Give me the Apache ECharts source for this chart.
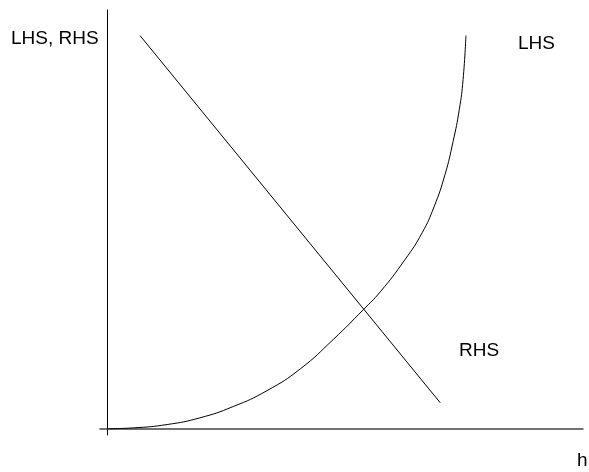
<!DOCTYPE html>
<html lang="en">

<head>
    <meta charset="UTF-8">
    <title>LHS RHS</title>
    <script type="text/javascript" src="https://cdn.jsdelivr.net/npm/echarts@6.0.0/dist/echarts.min.js"></script>
    <style>
        html, body { margin: 0; padding: 0; background: #fff; }
        #container { width: 589px; height: 472px; }
    </style>
</head>

<body>
    <div id="container"></div>
</body>
<script type="text/javascript">
    // curve LHS (convex, rising)
    var lhsX = [0, 0.55, 1.26, 1.95, 2.65, 3.36, 4.06, 4.75, 5.38, 5.74, 6.26, 6.62, 6.87, 7.10, 7.27, 7.40, 7.48, 7.54];
    var lhsY = [0, 0.02, 0.10, 0.26, 0.53, 0.91, 1.43, 2.13, 2.84, 3.27, 4.04, 4.68, 5.30, 6.07, 6.86, 7.62, 8.34, 9.39];
    // straight line RHS (falling)
    var rhsX = [0.69, 7.0];
    var rhsY = [9.39, 0.62];

    var labelFont = '19px "Liberation Sans", Arial, sans-serif';

    function pairs(xs, ys) {
        return xs.map(function (x, i) { return [x, ys[i]]; });
    }

    var dom = document.getElementById('container');
    var myChart = echarts.init(dom, null, { renderer: 'canvas' });

    var hiddenAxis = {
        type: 'value',
        min: -0.15,
        max: 10,
        axisLine: { show: true, onZero: true, lineStyle: { color: '#000', width: 1 } },
        axisTick: { show: false },
        axisLabel: { show: false },
        splitLine: { show: false }
    };

    myChart.setOption({
        animation: false,
        grid: { left: 100, right: 6, top: 10, bottom: 37 },
        xAxis: Object.assign({}, hiddenAxis, {
            axisLine: { show: true, onZero: true, lineStyle: { color: '#444', width: 1.5 } }
        }),
        yAxis: Object.assign({}, hiddenAxis),
        series: [{
            name: 'LHS',
            type: 'line',
            data: pairs(lhsX, lhsY),
            smooth: 0.5,
            symbol: 'none',
            lineStyle: { color: '#000', width: 1 }
        }, {
            name: 'RHS',
            type: 'line',
            data: pairs(rhsX, rhsY),
            symbol: 'none',
            lineStyle: { color: '#000', width: 1 }
        }],
        graphic: [
            { type: 'text', x: 11, y: 39, style: { text: 'LHS, RHS', font: labelFont, fill: '#000', textVerticalAlign: 'middle' } },
            { type: 'text', x: 518, y: 44, style: { text: 'LHS', font: labelFont, fill: '#000', textVerticalAlign: 'middle' } },
            { type: 'text', x: 459, y: 351, style: { text: 'RHS', font: labelFont, fill: '#000', textVerticalAlign: 'middle' } },
            { type: 'text', x: 577, y: 461, style: { text: 'h', font: labelFont, fill: '#000', textVerticalAlign: 'middle' } }
        ]
    });

    window.addEventListener('resize', myChart.resize);
</script>

</html>
